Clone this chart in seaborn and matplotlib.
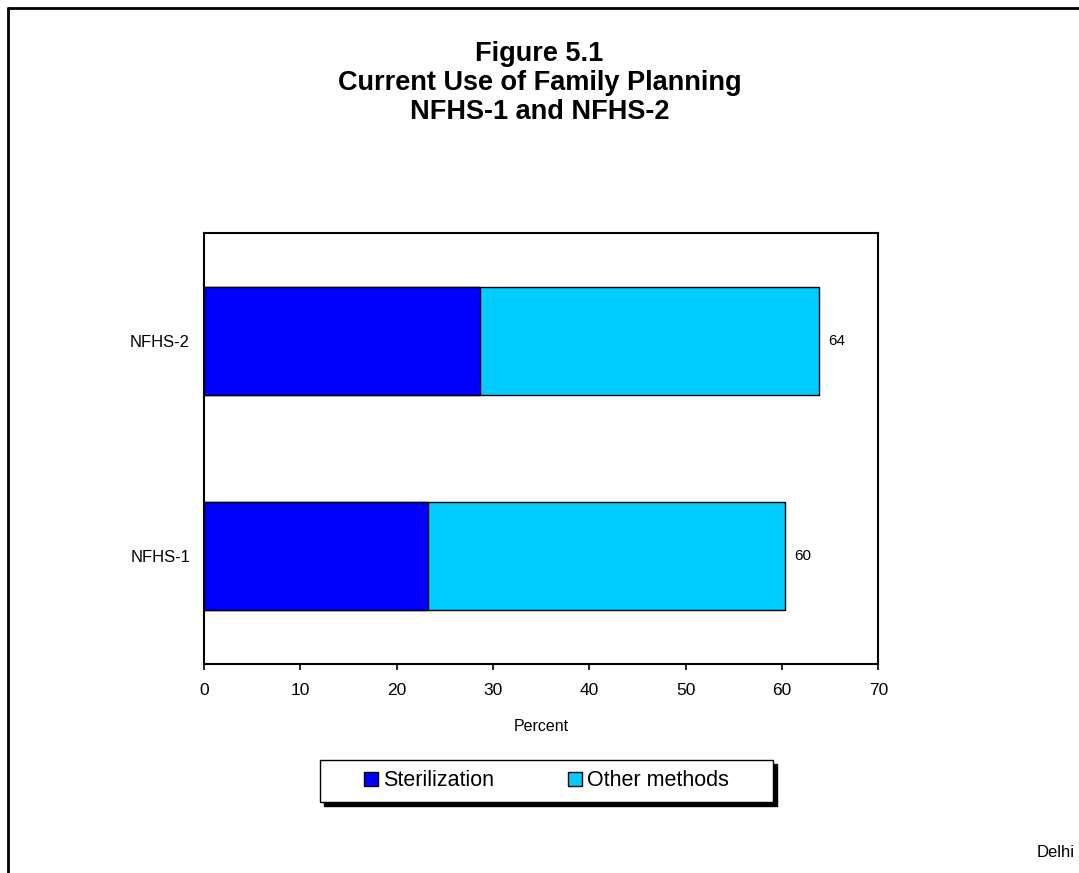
import matplotlib
matplotlib.use("Agg")
import seaborn as sns
from matplotlib import pyplot as plt
from matplotlib.lines import Line2D
from matplotlib.patches import Patch, Rectangle
from pandas import DataFrame

surveys = ["NFHS-2", "NFHS-1"]
sterilization = [28.7, 23.3]
other_methods = [35.1, 37.0]
totals = [s + o for s, o in zip(sterilization, other_methods)]
total_labels = ["64", "60"]

sns.set_theme(style="white")
plt.rcParams['font.family'] = ['Liberation Sans', 'DejaVu Sans']
plt.rcParams.update({'text.color': 'black', 'axes.labelcolor': 'black',
                     'xtick.color': 'black', 'ytick.color': 'black'})

df = DataFrame({'survey': surveys, 'sterilization': sterilization, 'total': totals})

fig = plt.figure(figsize=(10.79, 8.73), dpi=100)
ax = fig.add_axes([0.189, 0.2394, 0.625, 0.4937])

sns.barplot(data=df, x='total', y='survey', color='#00CCFF', saturation=1,
            width=0.5, edgecolor='black', linewidth=1, ax=ax)
sns.barplot(data=df, x='sterilization', y='survey', color='#0000FF', saturation=1,
            width=0.5, edgecolor='black', linewidth=1, ax=ax)

ax.bar_label(ax.containers[0], labels=total_labels, padding=7, fontsize=11)

ax.set_xlim(0, 70)
ax.set_xticks(range(0, 71, 10))
ax.set_xlabel("Percent", fontsize=11.5, labelpad=15)
ax.set_ylabel(None)
ax.tick_params(axis='x', labelsize=12.5, length=4.5, width=1.2, direction='out', bottom=True, pad=9)
ax.tick_params(axis='y', labelsize=12, length=0, pad=10)
for spine in ax.spines.values():
    spine.set_color('black')
    spine.set_linewidth(1.5)

fig.text(0.5, 0.905, "Figure 5.1\nCurrent Use of Family Planning\nNFHS-1 and NFHS-2",
         ha='center', va='center', fontsize=19.5, fontweight='bold', linespacing=1.15)

# legend box with a solid drop shadow
box_x, box_y, box_w, box_h = 320 / 1079, 1 - 802 / 873, 453 / 1079, 42 / 873
fig.add_artist(Rectangle((box_x + 4 / 1079, box_y - 4 / 873), box_w, box_h,
                         transform=fig.transFigure, facecolor='black', edgecolor='black'))
fig.add_artist(Rectangle((box_x, box_y), box_w, box_h, transform=fig.transFigure,
                         facecolor='white', edgecolor='black', linewidth=1))

handles = [Patch(facecolor='#0000FF', edgecolor='black', label='Sterilization'),
           Patch(facecolor='#00CCFF', edgecolor='black', label='Other methods')]
leg = fig.legend(handles=handles, loc='center', bbox_to_anchor=(0.5065, 0.1055), ncol=2,
                 frameon=False, fontsize=15.5, handlelength=0.65, handleheight=0.65,
                 handletextpad=0.25, columnspacing=3.4, borderpad=0, borderaxespad=0)
leg.set_zorder(5)

fig.text(0.9963, 0.024, "Delhi", ha='right', va='center', fontsize=12)

fig.add_artist(Line2D([0.0075, 0.0075], [0, 0.991], color='black', linewidth=2,
                      transform=fig.transFigure))
fig.add_artist(Line2D([0.0075, 1.0], [0.991, 0.991], color='black', linewidth=2,
                      transform=fig.transFigure))

fig.savefig("out.png", dpi=100)
plt.close(fig)
